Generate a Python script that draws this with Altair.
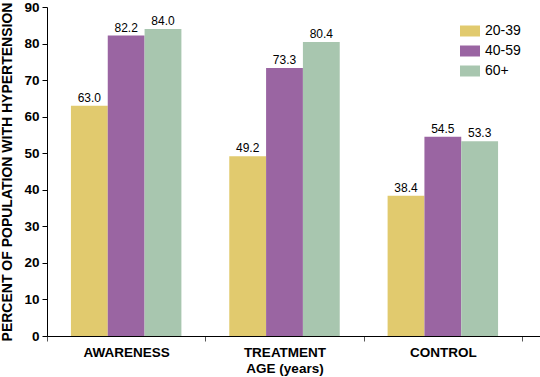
import altair as alt
import pandas as pd

categories = ["AWARENESS", "TREATMENT", "CONTROL"]
ages = ["20-39", "40-59", "60+"]
v_20_39 = [63.0, 49.2, 38.4]
v_40_59 = [82.2, 73.3, 54.5]
v_60p = [84.0, 80.4, 53.3]
y_ticks = [0, 10, 20, 30, 40, 50, 60, 70, 80, 90]
colors = ["#E1CA6E", "#9A65A2", "#A8C6AF"]

rows = []
for i, c in enumerate(categories):
    for a, vals in zip(ages, [v_20_39, v_40_59, v_60p]):
        rows.append({"measure": c, "age": a, "value": vals[i]})
df = pd.DataFrame(rows)

W, H = 475, 329
FONT = "Liberation Sans"

x = alt.X("measure:N", sort=categories,
          scale=alt.Scale(paddingInner=0, paddingOuter=0),
          axis=alt.Axis(title="AGE (years)", labelAngle=0, tickBand="extent",
                        labelFont=FONT, labelFontSize=13.5, labelFontWeight="bold",
                        labelColor="black", labelPadding=4,
                        titleFont=FONT, titleFontSize=13.5, titleFontWeight="bold",
                        titleColor="black", titlePadding=3,
                        domainColor="black", tickColor="#555", tickSize=5))
xo = alt.XOffset("age:N", sort=ages, scale=alt.Scale(paddingInner=0, paddingOuter=0.65))
y = alt.Y("value:Q", scale=alt.Scale(domain=[0, 90], nice=False),
          axis=alt.Axis(title="PERCENT OF POPULATION WITH HYPERTENSION",
                        values=y_ticks, grid=False, labelOverlap=False,
                        labelFont=FONT, labelFontSize=13.5, labelFontWeight="bold",
                        labelColor="black", labelPadding=3,
                        titleFont=FONT, titleFontSize=14, titleFontWeight="bold",
                        titleColor="black", titlePadding=9,
                        domainColor="black", tickColor="black", tickSize=5))
color = alt.Color("age:N", sort=ages, scale=alt.Scale(domain=ages, range=colors),
                  legend=alt.Legend(title=None, orient="none", legendX=413, legendY=14,
                                    symbolType="M-1,-0.55H1V0.55H-1Z", symbolSize=400,
                                    symbolStrokeWidth=0, symbolOpacity=1,
                                    labelFont=FONT, labelFontSize=14, labelColor="black",
                                    rowPadding=3, labelOffset=5))

bars = alt.Chart(df).mark_bar(opacity=1).encode(x=x, xOffset=xo, y=y, color=color)
text = alt.Chart(df).mark_text(dy=-8, font=FONT, fontSize=12, color="black").encode(
    x=x, xOffset=xo, y=y,
    text=alt.Text("value:Q", format=".1f"))
ext = alt.Chart(df).mark_rule(color="black", strokeWidth=1).encode(
    x=alt.value(W), x2=alt.value(W + 18), y=alt.value(H + 0.5))

chart = alt.layer(bars, text, ext).properties(
    width=W, height=H,
    autosize=alt.AutoSizeParams(type="none"),
    padding={"left": 47, "top": 7, "right": 18, "bottom": 41},
).configure_view(stroke=None)

chart.save("out.html", embed_options={"renderer": "svg", "actions": False})
